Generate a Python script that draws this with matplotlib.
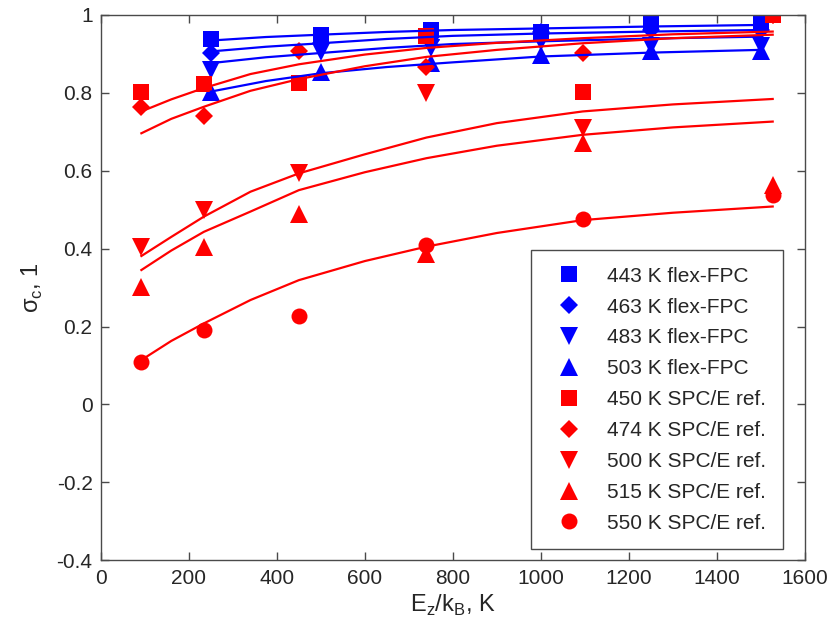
import matplotlib.pyplot as plt

plt.rcParams['font.family'] = ['Liberation Sans', 'DejaVu Sans']
plt.rcParams['mathtext.fontset'] = 'custom'
plt.rcParams['mathtext.rm'] = 'Liberation Sans'

# flex-FPC points (blue)
x_fpc = [250, 500, 750, 1000, 1250, 1500]
fpc_443 = [0.937, 0.947, 0.960, 0.957, 0.979, 0.979]
fpc_463 = [0.902, 0.927, 0.935, 0.955, 0.960, 0.960]
fpc_483 = [0.859, 0.905, 0.915, 0.930, 0.920, 0.920]
fpc_503 = [0.803, 0.854, 0.876, 0.897, 0.906, 0.906]

# SPC/E reference points (red)
x_ref = [90, 234, 450, 740, 1095, 1527]
ref_450 = [0.803, 0.822, 0.824, 0.946, 0.803, 1.000]
ref_474 = [0.763, 0.740, 0.906, 0.867, 0.903, 1.000]
ref_500 = [0.404, 0.499, 0.593, 0.799, 0.709, 1.000]
ref_515 = [0.302, 0.404, 0.490, 0.386, 0.670, 0.563]
ref_550 = [0.109, 0.190, 0.226, 0.410, 0.475, 0.537]

# fitted curves
xfit_fpc = [250, 375, 500, 650, 800, 1000, 1250, 1500]
fit_443 = [0.934, 0.943, 0.949, 0.956, 0.961, 0.965, 0.970, 0.974]
fit_463 = [0.906, 0.918, 0.927, 0.938, 0.946, 0.952, 0.957, 0.961]
fit_483 = [0.876, 0.891, 0.902, 0.915, 0.925, 0.932, 0.939, 0.944]
fit_503 = [0.803, 0.830, 0.850, 0.866, 0.878, 0.893, 0.903, 0.910]

xfit_ref = [92, 160, 234, 340, 450, 600, 740, 900, 1095, 1300, 1527]
fit_a = [0.752, 0.783, 0.812, 0.848, 0.873, 0.898, 0.915, 0.928, 0.940, 0.950, 0.957]
fit_b = [0.696, 0.733, 0.764, 0.805, 0.835, 0.868, 0.892, 0.910, 0.927, 0.940, 0.949]
fit_500 = [0.381, 0.430, 0.482, 0.546, 0.593, 0.642, 0.685, 0.722, 0.752, 0.770, 0.784]
fit_515 = [0.345, 0.395, 0.443, 0.495, 0.550, 0.596, 0.632, 0.664, 0.692, 0.711, 0.726]
fit_550 = [0.114, 0.163, 0.208, 0.268, 0.319, 0.368, 0.405, 0.440, 0.473, 0.492, 0.508]

fig = plt.figure(figsize=(8.34, 6.44), dpi=100)
ax = fig.add_axes([0.121, 0.130, 0.844, 0.847])

fpc_sets = [(fpc_443, 's', 11, '443 K flex-FPC'),
            (fpc_463, 'D', 9, '463 K flex-FPC'),
            (fpc_483, 'v', 13, '483 K flex-FPC'),
            (fpc_503, '^', 13, '503 K flex-FPC')]
ref_sets = [(ref_450, 's', 11, '450 K SPC/E ref.'),
            (ref_474, 'D', 9, '474 K SPC/E ref.'),
            (ref_500, 'v', 13, '500 K SPC/E ref.'),
            (ref_515, '^', 13, '515 K SPC/E ref.'),
            (ref_550, 'o', 11.5, '550 K SPC/E ref.')]

for y, m, ms, lab in fpc_sets:
    ax.plot(x_fpc, y, linestyle='none', marker=m, markersize=ms,
            color='blue', markeredgewidth=0, label=lab)
for y, m, ms, lab in ref_sets:
    ax.plot(x_ref, y, linestyle='none', marker=m, markersize=ms,
            color='red', markeredgewidth=0, label=lab)

for y in [fit_443, fit_463, fit_483, fit_503]:
    ax.plot(xfit_fpc, y, color='blue', linewidth=1.6)
for y in [fit_a, fit_b, fit_500, fit_515, fit_550]:
    ax.plot(xfit_ref, y, color='red', linewidth=1.6)

ax.set_xlim(0, 1600)
ax.set_ylim(-0.4, 1)
ax.set_xticks(range(0, 1601, 200))
yt = [-0.4, -0.2, 0, 0.2, 0.4, 0.6, 0.8, 1]
ax.set_yticks(yt)
ax.set_yticklabels(['-0.4', '-0.2', '0', '0.2', '0.4', '0.6', '0.8', '1'])

axcol = '#4a4a4a'
for sp in ax.spines.values():
    sp.set_color(axcol)
    sp.set_linewidth(1.0)
ax.tick_params(direction='in', top=True, right=True, length=6, width=1,
               color=axcol, labelcolor='#262626', labelsize=15, pad=6)

ax.set_xlabel('E$_{\\mathregular{z}}$/k$_{\\mathregular{B}}$, K', fontsize=17,
              color='#262626', labelpad=4)
ax.set_ylabel('σ$_{\\mathregular{c}}$, 1', fontsize=17, color='#262626',
              labelpad=8)

leg = ax.legend(loc='lower right', bbox_to_anchor=(0.969, 0.020),
                fontsize=15, handlelength=2.0, handletextpad=0.85,
                labelspacing=0.57, borderpad=0.8, fancybox=False,
                framealpha=1, borderaxespad=0)
leg.get_frame().set_edgecolor(axcol)
leg.get_frame().set_linewidth(1.0)
for t in leg.get_texts():
    t.set_color('#262626')

fig.savefig('out.png', dpi=100)
